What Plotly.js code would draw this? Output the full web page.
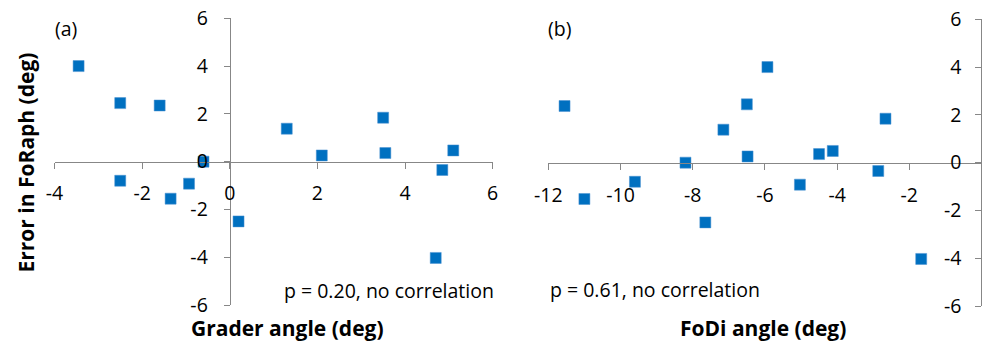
<!DOCTYPE html>
<html><head><meta charset="utf-8">
<script src="https://cdn.plot.ly/plotly-3.0.1.min.js"></script>
<style>html,body{margin:0;padding:0;background:#fff}#chart{width:982px;height:343px}</style>
</head><body><div id="chart"></div>
<script>
// Panel (a): Grader angle vs error in FoRaph
const graderAngle = [-3.45, -2.5, -1.6, -2.5, -1.35, -0.93, -0.6, 0.2, 1.3, 2.1, 3.5, 3.55, 4.85, 5.1, 4.7];
const graderError = [4.0, 2.45, 2.35, -0.8, -1.55, -0.92, 0.0, -2.5, 1.38, 0.26, 1.84, 0.36, -0.35, 0.47, -4.03];
// Panel (b): FoDi angle vs error in FoRaph
const fodiAngle = [-11.55, -11.0, -9.6, -8.2, -7.65, -7.15, -6.5, -6.48, -5.93, -5.03, -4.5, -4.12, -2.86, -2.66, -1.67];
const fodiError = [2.37, -1.52, -0.8, 0.0, -2.5, 1.38, 2.44, 0.26, 4.0, -0.92, 0.36, 0.49, -0.35, 1.84, -4.03];

const xTicksA = [-4, -2, 0, 2, 4, 6];
const xTicksB = [-12, -10, -8, -6, -4, -2, 0];
const yTicks = [-6, -4, -2, 0, 2, 4, 6];
const xLabelsA = ['-4', '-2', '0', '2', '4', '6'];
const xLabelsB = ['-12', '-10', '-8', '-6', '-4', '-2', '0'];
const yLabels = ['-6', '-4', '-2', '0', '2', '4', '6'];

const W = 982, H = 343;
const px = v => v / W;
const py = v => (H - v) / H;

const FONT = 'Open Sans';
const TXT = 19.5;
const TITLE = 21;
const markerStyle = {symbol: 'square', size: 11, color: '#0070C0', line: {width: 0.5, color: '#4a90d0'}};

const traces = [
  {x: graderAngle, y: graderError, xaxis: 'x', yaxis: 'y', mode: 'markers', type: 'scatter', marker: markerStyle, hoverinfo: 'skip'},
  {x: fodiAngle, y: fodiError, xaxis: 'x2', yaxis: 'y2', mode: 'markers', type: 'scatter', marker: markerStyle, hoverinfo: 'skip'}
];

const axisCommon = {
  showgrid: false, zeroline: false, showline: true, linecolor: '#878787', linewidth: 1,
  ticks: 'outside', ticklen: 6, tickcolor: '#878787', tickwidth: 1,
  tickfont: {family: FONT, size: TXT, color: '#000'}, fixedrange: true, tickmode: 'array'
};

const layout = {
  width: W, height: H, margin: {l: 0, r: 0, t: 0, b: 0},
  paper_bgcolor: '#fff', plot_bgcolor: 'rgba(0,0,0,0)', showlegend: false,
  xaxis: Object.assign({}, axisCommon, {domain: [px(54.5), px(492.7)], range: [-4, 6], tickvals: xTicksA, ticktext: xLabelsA,
    anchor: 'free', position: py(161.7), ticklabelstandoff: 8}),
  yaxis: Object.assign({}, axisCommon, {domain: [py(305), py(18.3)], range: [-6, 6], tickvals: yTicks, ticktext: yLabels,
    anchor: 'free', position: px(229.7), ticklabelstandoff: 12}),
  xaxis2: Object.assign({}, axisCommon, {domain: [px(548.3), px(981.5)], range: [-12, 0], tickvals: xTicksB, ticktext: xLabelsB,
    anchor: 'free', position: py(163.3), ticklabelstandoff: 8}),
  yaxis2: Object.assign({}, axisCommon, {domain: [py(306), py(19.3)], range: [-6, 6], tickvals: yTicks, ticktext: yLabels,
    anchor: 'free', position: px(981.3), side: 'left', ticklabelstandoff: 10}),
  annotations: [
    {text: '(a)', x: px(53), y: py(29), xref: 'paper', yref: 'paper', xanchor: 'left', yanchor: 'middle', showarrow: false, font: {family: FONT, size: TXT, color: '#000'}},
    {text: '(b)', x: px(546), y: py(29), xref: 'paper', yref: 'paper', xanchor: 'left', yanchor: 'middle', showarrow: false, font: {family: FONT, size: TXT, color: '#000'}},
    {text: 'p = 0.20, no correlation', x: px(282), y: py(290), xref: 'paper', yref: 'paper', xanchor: 'left', yanchor: 'middle', showarrow: false, font: {family: FONT, size: TXT, color: '#000'}},
    {text: 'p = 0.61, no correlation', x: px(548), y: py(289), xref: 'paper', yref: 'paper', xanchor: 'left', yanchor: 'middle', showarrow: false, font: {family: FONT, size: TXT, color: '#000'}},
    {text: '<b>Error in FoRaph (deg)</b>', x: px(25), y: py(162.5), xref: 'paper', yref: 'paper', xanchor: 'center', yanchor: 'middle', textangle: -90, showarrow: false, font: {family: FONT, size: TITLE, color: '#000'}},
    {text: '<b>Grader angle (deg)</b>', x: px(287), y: py(327.5), xref: 'paper', yref: 'paper', xanchor: 'center', yanchor: 'middle', showarrow: false, font: {family: FONT, size: TITLE, color: '#000'}},
    {text: '<b>FoDi angle (deg)</b>', x: px(763), y: py(327.5), xref: 'paper', yref: 'paper', xanchor: 'center', yanchor: 'middle', showarrow: false, font: {family: FONT, size: TITLE, color: '#000'}}
  ]
};

Plotly.newPlot('chart', traces, layout, {displayModeBar: false, staticPlot: true});
</script>
</body></html>
